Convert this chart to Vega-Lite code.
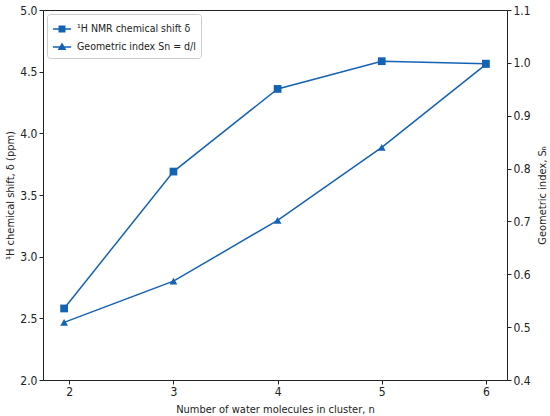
{
  "$schema": "https://vega.github.io/schema/vega-lite/v6.json",
  "autosize": "none",
  "width": 464,
  "height": 370,
  "padding": {"left": 43, "top": 10, "right": 43, "bottom": 36},
  "background": "white",
  "config": {
    "font": "DejaVu Sans Condensed, Liberation Sans Narrow, DejaVu Sans",
    "view": {"stroke": "#222", "strokeWidth": 1},
    "axis": {
      "grid": false,
      "domainColor": "#222",
      "tickColor": "#222",
      "tickSize": 4,
      "labelFontSize": 12,
      "labelColor": "#222",
      "titleFontSize": 11,
      "titleFontWeight": "normal",
      "titleColor": "#222",
      "labelFont": "DejaVu Sans Condensed, DejaVu Sans",
      "titleFont": "DejaVu Sans Condensed, DejaVu Sans"
    }
  },
  "data": {
    "values": [
      {"n": 1.95, "value": 2.58, "series": "nmr"},
      {"n": 3, "value": 3.69, "series": "nmr"},
      {"n": 4, "value": 4.36, "series": "nmr"},
      {"n": 5, "value": 4.585, "series": "nmr"},
      {"n": 6, "value": 4.565, "series": "nmr"},
      {"n": 1.95, "value": 0.509, "series": "geo"},
      {"n": 3, "value": 0.587, "series": "geo"},
      {"n": 4, "value": 0.702, "series": "geo"},
      {"n": 5, "value": 0.84, "series": "geo"},
      {"n": 6, "value": 0.997, "series": "geo"}
    ]
  },
  "encoding": {
    "x": {
      "field": "n",
      "type": "quantitative",
      "scale": {"domain": [1.7475, 6.2025], "nice": false, "zero": false},
      "axis": {
        "values": [2, 3, 4, 5, 6],
        "format": "d",
        "title": "Number of water molecules in cluster, n",
        "titlePadding": 6
      }
    }
  },
  "layer": [
    {
      "transform": [{"filter": "datum.series == 'nmr'"}],
      "encoding": {
        "y": {
          "field": "value",
          "type": "quantitative",
          "scale": {"domain": [2, 5], "nice": false, "zero": false},
          "axis": {
            "values": [2, 2.5, 3, 3.5, 4, 4.5, 5],
            "format": ".1f",
            "title": "¹H chemical shift, δ (ppm)",
            "titlePadding": 4
          }
        }
      },
      "layer": [
        {
          "mark": {"type": "line", "color": "#1462b3", "strokeWidth": 1.5}
        },
        {
          "mark": {"type": "point", "shape": "square", "filled": true, "color": "#1462b3", "opacity": 1, "size": 60}
        },
        {
          "mark": {"type": "point", "filled": true, "opacity": 0, "stroke": "#1462b3", "strokeWidth": 1.5, "size": 60},
          "encoding": {
            "color": {
              "field": "series",
              "type": "nominal",
              "scale": {"domain": ["nmr", "geo"], "range": ["#1462b3", "#1462b3"]},
              "legend": {
                "title": null,
                "orient": "top-left",
                "offset": 4,
                "padding": 5,
                "strokeColor": "#cccccc",
                "fillColor": "white",
                "cornerRadius": 3,
                "labelFontSize": 10.5,
                "labelColor": "#222",
                "labelOffset": 5,
                "symbolSize": 330,
                "symbolOpacity": 1,
                "symbolFillColor": "#1462b3",
                "symbolStrokeColor": "#1462b3",
                "symbolStrokeWidth": 1.5,
                "rowPadding": 2,
                "labelExpr": "datum.value == 'nmr' ? '¹H NMR chemical shift δ' : 'Geometric index Sn = d/l'"
              }
            },
            "shape": {
              "field": "series",
              "type": "nominal",
              "scale": {
                "domain": ["nmr", "geo"],
                "range": [
                  "M-0.3,-0.3L0.3,-0.3L0.3,0.3L-0.3,0.3ZM-1,0L1,0M-0.3,-0.2L0.3,-0.2M-0.3,-0.1L0.3,-0.1M-0.3,0.1L0.3,0.1M-0.3,0.2L0.3,0.2",
                  "M0,-0.34L0.34,0.26L-0.34,0.26ZM-1,0L1,0M-0.08,-0.2L0.08,-0.2M-0.14,-0.1L0.14,-0.1M-0.25,0.1L0.25,0.1M-0.3,0.2L0.3,0.2"
                ]
              },
              "legend": {
                "title": null,
                "labelExpr": "datum.value == 'nmr' ? '¹H NMR chemical shift δ' : 'Geometric index Sn = d/l'"
              }
            }
          }
        }
      ]
    },
    {
      "transform": [{"filter": "datum.series == 'geo'"}],
      "encoding": {
        "y": {
          "field": "value",
          "type": "quantitative",
          "scale": {"domain": [0.4, 1.1], "nice": false, "zero": false},
          "axis": {
            "orient": "right",
            "values": [0.4, 0.5, 0.6, 0.7, 0.8, 0.9, 1.0, 1.1],
            "format": ".1f",
            "title": "Geometric index, Sₙ",
            "titleAngle": 270,
            "titleBaseline": "top",
            "titlePadding": 6
          }
        }
      },
      "layer": [
        {
          "mark": {"type": "line", "color": "#1462b3", "strokeWidth": 1.5}
        },
        {
          "mark": {"type": "point", "shape": "triangle-up", "filled": true, "color": "#1462b3", "opacity": 1, "size": 60}
        }
      ]
    }
  ],
  "resolve": {"scale": {"y": "independent"}}
}
